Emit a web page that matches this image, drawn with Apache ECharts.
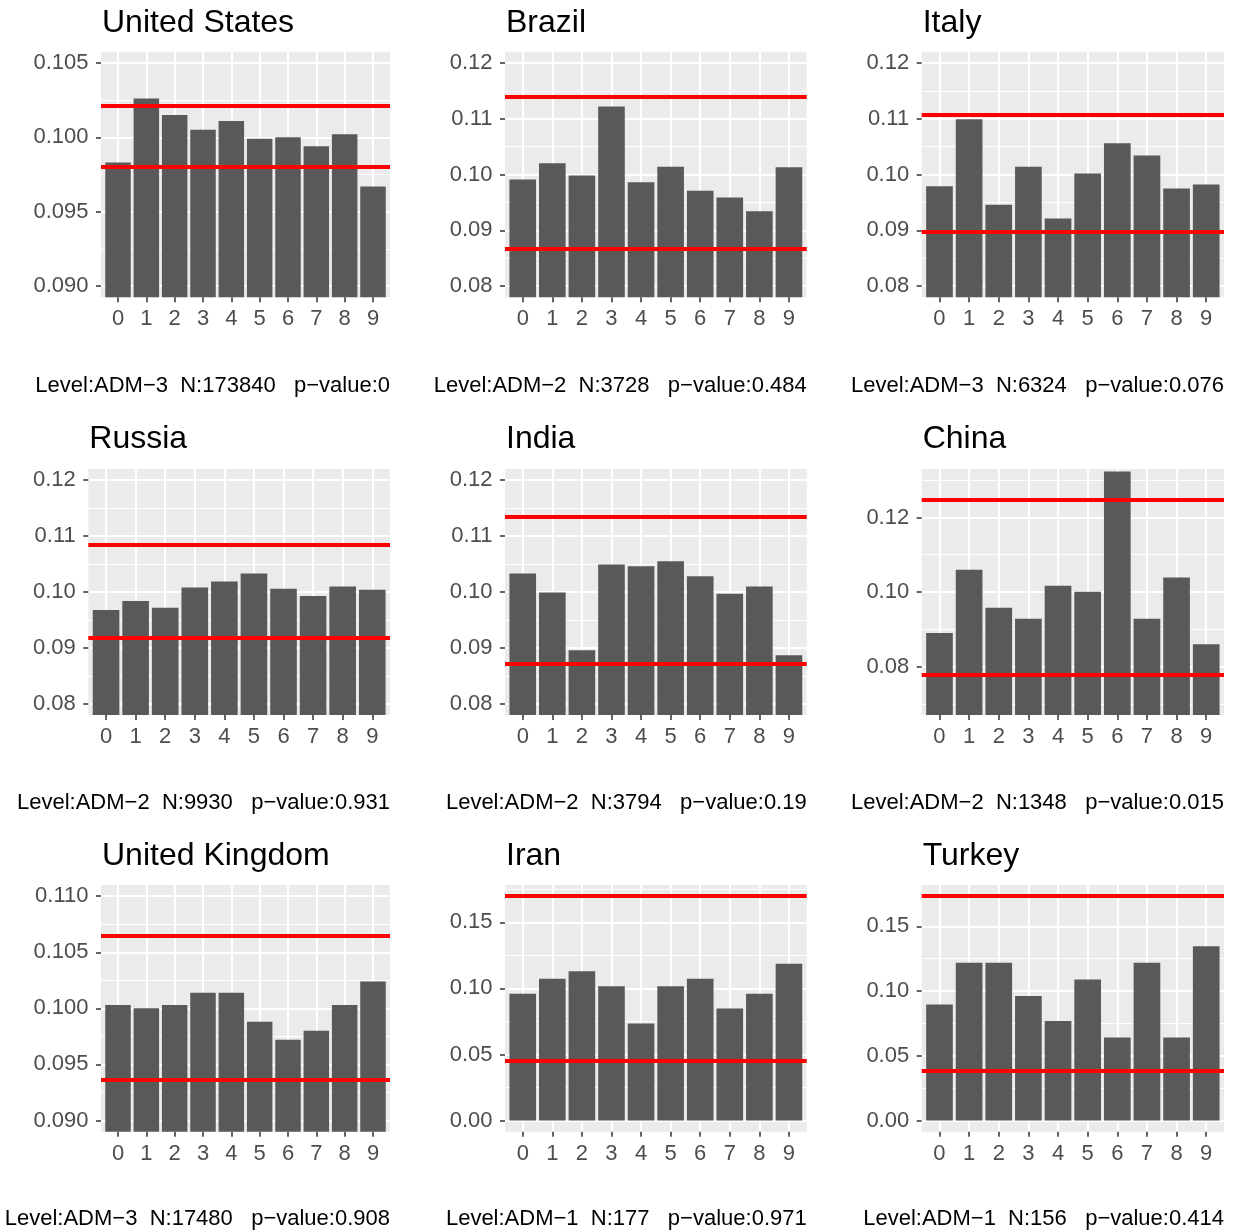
<!DOCTYPE html>
<html>
<head>
<meta charset="utf-8" />
<title>First digit shares by country</title>
<script src="https://cdn.jsdelivr.net/npm/echarts@6/dist/echarts.min.js"></script>
<style>
html, body { margin: 0; padding: 0; background: #ffffff; }
#main { width: 1234px; height: 1232px; }
</style>
</head>
<body>
<div id="main"></div>
<script>
// ---- data ----
var countries = ['United States', 'Brazil', 'Italy', 'Russia', 'India', 'China', 'United Kingdom', 'Iran', 'Turkey'];
var digits = ['0', '1', '2', '3', '4', '5', '6', '7', '8', '9'];

var usShare     = [0.0983, 0.1026, 0.1015, 0.1005, 0.1011, 0.0999, 0.1000, 0.0994, 0.1002, 0.0967];
var brazilShare = [0.0991, 0.1020, 0.0998, 0.1122, 0.0986, 0.1014, 0.0971, 0.0959, 0.0934, 0.1013];
var italyShare  = [0.0979, 0.1099, 0.0946, 0.1014, 0.0921, 0.1002, 0.1056, 0.1034, 0.0975, 0.0982];
var russiaShare = [0.0968, 0.0984, 0.0972, 0.1008, 0.1019, 0.1033, 0.1006, 0.0993, 0.1010, 0.1004];
var indiaShare  = [0.1033, 0.0999, 0.0896, 0.1049, 0.1046, 0.1055, 0.1028, 0.0997, 0.1010, 0.0887];
var chinaShare  = [0.0890, 0.1060, 0.0958, 0.0928, 0.1017, 0.1001, 0.1323, 0.0928, 0.1039, 0.0860];
var ukShare     = [0.1003, 0.1000, 0.1003, 0.1014, 0.1014, 0.0988, 0.0972, 0.0980, 0.1003, 0.1024];
var iranShare   = [0.0960, 0.1073, 0.1130, 0.1017, 0.0734, 0.1017, 0.1073, 0.0847, 0.0960, 0.1186];
var turkeyShare = [0.0897, 0.1218, 0.1218, 0.0962, 0.0769, 0.1090, 0.0641, 0.1218, 0.0641, 0.1346];
var shares = [usShare, brazilShare, italyShare, russiaShare, indiaShare, chinaShare, ukShare, iranShare, turkeyShare];

// red bounds (lower, upper)
var lowerBound = [0.0980, 0.0867, 0.0897, 0.0918, 0.0872, 0.0778, 0.0936, 0.0449, 0.0384];
var upperBound = [0.1021, 0.1140, 0.1107, 0.1084, 0.1134, 0.1247, 0.1065, 0.1698, 0.1733];

// caption parts
var levels  = ['ADM\u22123', 'ADM\u22122', 'ADM\u22123', 'ADM\u22122', 'ADM\u22122', 'ADM\u22122', 'ADM\u22123', 'ADM\u22121', 'ADM\u22121'];
var counts  = [173840, 3728, 6324, 9930, 3794, 1348, 17480, 177, 156];
var pValues = ['0', '0.484', '0.076', '0.931', '0.19', '0.015', '0.908', '0.971', '0.414'];

// y limits before the 5% ggplot expansion
var yLow  = [0.090, 0.08, 0.08, 0.08, 0.08, 0.07, 0.090, 0, 0];
var yHigh = [0.105, 0.12, 0.12, 0.12, 0.12, 0.13, 0.110, 0.1698, 0.1733];

// tick labels
var usTicks    = [0.090, 0.095, 0.100, 0.105];
var midTicks   = [0.08, 0.09, 0.10, 0.11, 0.12];
var chinaTicks = [0.08, 0.10, 0.12];
var ukTicks    = [0.090, 0.095, 0.100, 0.105, 0.110];
var wideTicks  = [0.00, 0.05, 0.10, 0.15];
var yTicks = [usTicks, midTicks, midTicks, midTicks, midTicks, chinaTicks, ukTicks, wideTicks, wideTicks];
var yDecimals = [3, 2, 2, 2, 2, 2, 3, 2, 2];

// ---- layout (px) ----
var panelLeft  = [101, 505, 921.7, 88.3, 505, 921.7, 101, 505, 921.7];
var colRight   = [390, 806.7, 1224];
var rowTop     = [51.7, 469, 885];
var rowBottom  = [297.3, 715, 1131.7];
var titleY     = [21, 437, 854];
var captionY   = [385, 802, 1218];

var FONT = '"Liberation Sans", Arial, Helvetica, sans-serif';
var W = 1234;
var titleSize = 32, tickSize = 22, captionSize = 22;

var chart = echarts.init(document.getElementById('main'));

var grids = [], xAxes = [], yAxes = [], series = [], titles = [], panels = [];
var xPos = digits.map(function (d, k) { return k; });

for (var i = 0; i < 9; i++) {
  var r = Math.floor(i / 3), c = i % 3;
  var left = panelLeft[i], right = colRight[c];
  var pad = (yHigh[i] - yLow[i]) * 0.05;
  var lo = yLow[i] - pad, hi = yHigh[i] + pad;

  // minor grid lines half way between major ticks
  var majors = yTicks[i];
  var step = majors[1] - majors[0];
  var minors = [];
  for (var k = -1; k < majors.length; k++) {
    var m = majors[0] + step * (k + 0.5);
    if (m > lo && m < hi) minors.push(+m.toFixed(6));
  }

  grids.push({
    left: left, top: rowTop[r], width: right - left, height: rowBottom[r] - rowTop[r],
    show: false
  });
  // grey panel behind each grid
  panels.push({
    type: 'rect', z: -10, silent: true,
    shape: { x: left, y: rowTop[r], width: right - left, height: rowBottom[r] - rowTop[r] },
    style: { fill: '#EBEBEB' }
  });

  xAxes.push({
    gridIndex: i, type: 'value', min: -0.6, max: 9.6,
    axisLine: { show: false, onZero: false },
    axisTick: { show: true, length: 5, customValues: xPos, lineStyle: { color: '#333333', width: 1.5 } },
    axisLabel: {
      customValues: xPos, margin: 11, color: '#4D4D4D', fontSize: tickSize, fontFamily: FONT,
      formatter: function (v) { return digits[Math.round(v)]; }
    },
    splitLine: { show: true, lineStyle: { color: '#FFFFFF', width: 2 } }
  });

  (function (dec) {
    yAxes.push({
      gridIndex: i, type: 'value', min: lo, max: hi, position: 'left',
      axisLine: { show: false, onZero: false },
      axisTick: { show: true, length: 5, customValues: majors, lineStyle: { color: '#333333', width: 1.5 } },
      axisLabel: {
        customValues: majors, margin: 12.5, color: '#4D4D4D', fontSize: tickSize, fontFamily: FONT,
        formatter: function (v) { return v.toFixed(dec); }
      },
      splitLine: { show: true, lineStyle: { color: '#FFFFFF', width: 2 } }
    });
  })(yDecimals[i]);

  yAxes.push({
    gridIndex: i, type: 'value', min: lo, max: hi, position: 'left',
    axisLine: { show: false, onZero: false },
    axisTick: { show: false, customValues: minors },
    axisLabel: { show: false },
    splitLine: { show: true, lineStyle: { color: '#FFFFFF', width: 1 } }
  });

  series.push({
    type: 'bar', xAxisIndex: i, yAxisIndex: 2 * i,
    data: shares[i].map(function (v, k) { return [k, v]; }),
    barWidth: '90%',
    itemStyle: { color: '#595959' },
    markLine: {
      silent: true, symbol: 'none', precision: 6, label: { show: false },
      lineStyle: { color: '#FF0000', width: 4, type: 'solid' },
      data: [{ yAxis: lowerBound[i] }, { yAxis: upperBound[i] }]
    }
  });

  titles.push({
    text: countries[i], left: left + 1, top: titleY[r] - titleSize / 2 + 2, padding: 0,
    textStyle: { fontSize: titleSize, fontWeight: 'normal', color: '#000000', fontFamily: FONT }
  });
  titles.push({
    text: 'Level:' + levels[i] + '  N:' + counts[i] + '   p\u2212value:' + pValues[i],
    right: W - right, top: captionY[r] - captionSize / 2 + 1, padding: 0,
    textStyle: { fontSize: captionSize, fontWeight: 'normal', color: '#000000', fontFamily: FONT }
  });
}

chart.setOption({
  animation: false,
  backgroundColor: '#FFFFFF',
  title: titles,
  graphic: panels,
  grid: grids,
  xAxis: xAxes,
  yAxis: yAxes,
  series: series
});
</script>
</body>
</html>
